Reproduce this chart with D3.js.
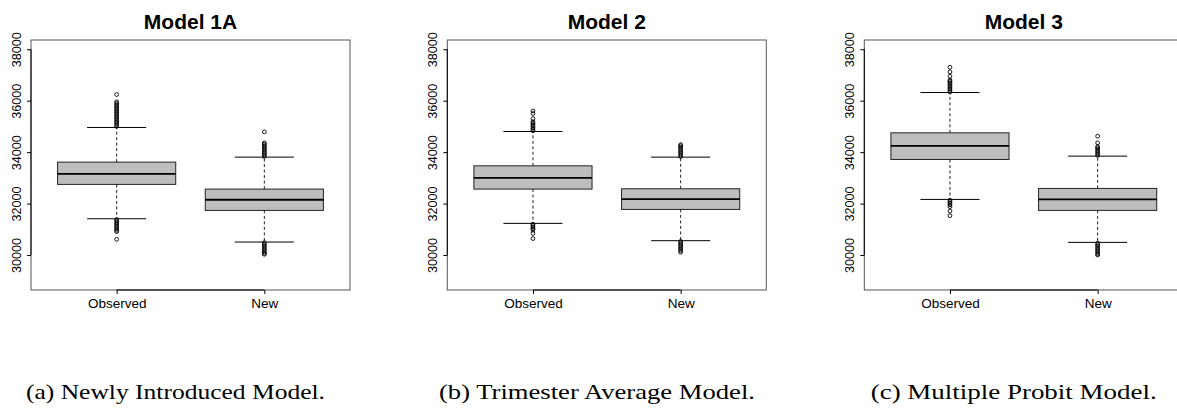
<!DOCTYPE html>
<html>
<head>
<meta charset="utf-8">
<script src="https://cdn.jsdelivr.net/npm/d3@7"></script>
<style>
  body { margin: 0; background: #fff; }
  svg { display: block; }
  .axis text { font-family: "Liberation Sans", Arial, sans-serif; fill: #000; }
  .axis line { stroke: #000; }
</style>
</head>
<body>
<svg id="chart" width="1177" height="411"></svg>
<script>
// values
const models = ["Model 1A", "Model 2", "Model 3"];
const captions = ["(a) Newly Introduced Model.", "(b) Trimester Average Model.", "(c) Multiple Probit Model."];
const groups = ["Observed", "New"];
const yTicks = [30000, 32000, 34000, 36000, 38000];
const yLimits = [29000, 38000];

// [Observed, New] for each model
const whiskerLow  = [[31410, 30505], [31230, 30557], [32162, 30492]];
const q1          = [[32746, 31735], [32563, 31773], [33715, 31735]];
const medians     = [[33157, 32148], [33003, 32175], [34246, 32162]];
const q3          = [[33612, 32563], [33468, 32576], [34751, 32590]];
const whiskerHigh = [[34959, 33806], [34803, 33806], [36317, 33845]];

const outliers = [
  [
    [35000, 35060, 35120, 35180, 35240, 35300, 35360, 35420, 35480, 35540, 35600, 35660, 35720, 35780, 35840, 35900, 35960, 36240,
     31380, 31320, 31260, 31200, 31140, 31080, 31020, 30960, 30910, 30610],
    [33830, 33890, 33950, 34010, 34070, 34130, 34190, 34250, 34310, 34360, 34790,
     30480, 30420, 30360, 30300, 30240, 30180, 30120, 30060, 30030]
  ],
  [
    [34830, 34890, 34950, 35010, 35070, 35130, 35180, 35300, 35500, 35600,
     31200, 31140, 31080, 31020, 30970, 30840, 30640],
    [33830, 33890, 33950, 34010, 34070, 34130, 34190, 34250, 34290,
     30530, 30470, 30410, 30350, 30290, 30230, 30170, 30110]
  ],
  [
    [36340, 36400, 36460, 36520, 36580, 36640, 36700, 36760, 36800, 36950, 37120, 37300,
     32130, 32070, 32010, 31950, 31880, 31710, 31530],
    [33870, 33930, 33990, 34050, 34110, 34170, 34210, 34360, 34620,
     30460, 30400, 30340, 30280, 30220, 30160, 30100, 30040, 30000]
  ]
];

const svg = d3.select("#chart");

const plotW = 319, plotTop = 40, plotBottom = 290;
const panelLeft = [31, 447.3, 864.3];
const captionCenter = [175.5, 597, 1013.7];
const captionWidth = [299, 316, 286];

// R pads the axis range by 4% on each side
let pad = (yLimits[1] - yLimits[0]) * 0.04;
const y = d3.scaleLinear().domain([yLimits[0] - pad, yLimits[1] + pad]).range([plotBottom, plotTop]);
const x = d3.scaleLinear().domain([0.5 - 0.08, groups.length + 0.5 + 0.08]).range([0, plotW]);
const boxHalf = x(1.4) - x(1);
const capHalf = x(1.2) - x(1);

models.forEach(function (model, m) {
    let g = svg.append("g").attr("transform", "translate(" + panelLeft[m] + ",0)");

    // frame
    g.append("rect")
        .attr("x", 0).attr("y", plotTop)
        .attr("width", plotW).attr("height", plotBottom - plotTop)
        .attr("fill", "none").attr("stroke", "#555").attr("stroke-width", 1);

    g.append("text")
        .attr("x", plotW / 2).attr("y", 28.5)
        .attr("text-anchor", "middle")
        .style("font-family", "'Liberation Sans', Arial, sans-serif")
        .style("font-weight", "bold").style("font-size", "21px")
        .text(model);

    // left axis, labels turned like R's las=0
    let yAxis = g.append("g").attr("class", "axis")
        .call(d3.axisLeft(y).tickValues(yTicks).tickSize(4).tickFormat(d3.format("d")));
    yAxis.select(".domain").remove();
    yAxis.selectAll("text")
        .attr("x", 0).attr("y", -10.5).attr("dy", null)
        .attr("transform", "rotate(-90)")
        .attr("text-anchor", "middle")
        .style("font-size", "12.6px");
    g.append("line")
        .attr("x1", 0).attr("x2", 0)
        .attr("y1", y(yTicks[0])).attr("y2", y(yTicks[yTicks.length - 1]))
        .attr("stroke", "#000");

    let xAxis = g.append("g").attr("class", "axis")
        .attr("transform", "translate(0," + plotBottom + ")")
        .call(d3.axisBottom(x).tickValues(groups.map((d, i) => i + 1)).tickSize(4).tickPadding(4)
            .tickFormat((d) => groups[d - 1]));
    xAxis.select(".domain").remove();
    xAxis.selectAll("text").style("font-size", "13.5px");
    g.append("line")
        .attr("x1", x(1)).attr("x2", x(groups.length))
        .attr("y1", plotBottom).attr("y2", plotBottom)
        .attr("stroke", "#000");

    groups.forEach(function (grp, k) {
        let cx = x(k + 1);
        let bg = g.append("g");

        // dashed whiskers
        bg.append("line")
            .attr("x1", cx).attr("x2", cx)
            .attr("y1", y(q3[m][k])).attr("y2", y(whiskerHigh[m][k]))
            .attr("stroke", "#222").attr("stroke-dasharray", "3,2.5");
        bg.append("line")
            .attr("x1", cx).attr("x2", cx)
            .attr("y1", y(q1[m][k])).attr("y2", y(whiskerLow[m][k]))
            .attr("stroke", "#222").attr("stroke-dasharray", "3,2.5");

        [whiskerHigh[m][k], whiskerLow[m][k]].forEach(function (v) {
            bg.append("line")
                .attr("x1", cx - capHalf).attr("x2", cx + capHalf)
                .attr("y1", y(v)).attr("y2", y(v))
                .attr("stroke", "#000");
        });

        bg.append("rect")
            .attr("x", cx - boxHalf).attr("y", y(q3[m][k]))
            .attr("width", boxHalf * 2).attr("height", y(q1[m][k]) - y(q3[m][k]))
            .attr("fill", "#bebebe").attr("stroke", "#222").attr("stroke-width", 1);

        bg.append("line")
            .attr("x1", cx - boxHalf).attr("x2", cx + boxHalf)
            .attr("y1", y(medians[m][k])).attr("y2", y(medians[m][k]))
            .attr("stroke", "#000").attr("stroke-width", 1.8);

        bg.selectAll("circle.out")
            .data(outliers[m][k])
            .enter().append("circle")
            .attr("class", "out")
            .attr("cx", cx).attr("cy", (d) => y(d))
            .attr("r", 1.9)
            .attr("fill", "none").attr("stroke", "#000").attr("stroke-width", 0.9);
    });
});

// sub-figure captions
captions.forEach(function (c, i) {
    svg.append("text")
        .attr("x", captionCenter[i]).attr("y", 399)
        .attr("text-anchor", "middle")
        .attr("textLength", captionWidth[i])
        .attr("lengthAdjust", "spacingAndGlyphs")
        .style("font-family", "'Liberation Serif', 'Times New Roman', serif")
        .style("font-size", "22px")
        .text(c);
});
</script>
</body>
</html>
